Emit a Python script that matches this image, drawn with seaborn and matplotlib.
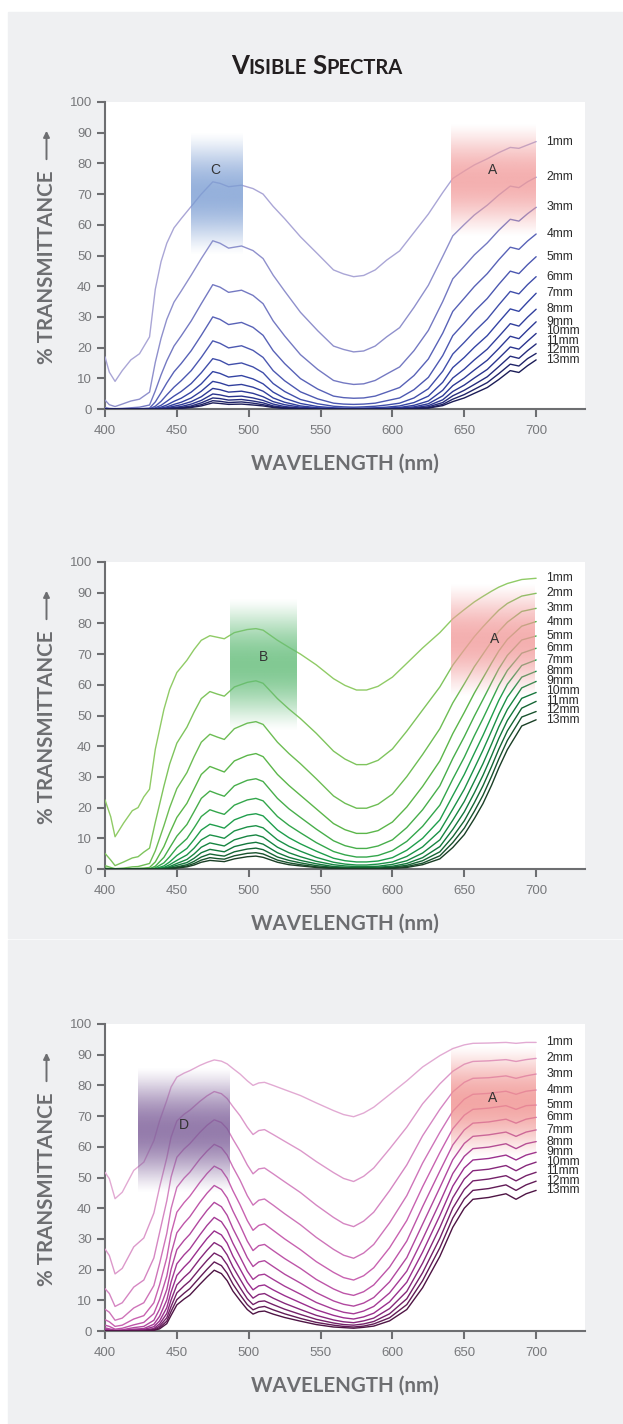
import numpy as np
import pandas as pd
import matplotlib
matplotlib.use("Agg")
import matplotlib.pyplot as plt
import seaborn as sns
from matplotlib.patches import Rectangle
from matplotlib.colors import to_rgb

# % transmittance.
# one entry per wavelength, each holding the 13 path lengths (1mm ... 13mm)
thickness = ["1mm", "2mm", "3mm", "4mm", "5mm", "6mm", "7mm",
             "8mm", "9mm", "10mm", "11mm", "12mm", "13mm"]

blue_wl = [400, 403, 407, 412, 418, 424, 431, 435, 439, 443, 448, 453, 460, 467,
           475, 480, 486, 495, 503, 510, 517, 525, 536, 548, 559, 566, 573, 580,
           588, 596, 605, 615, 625, 635, 642, 650, 657, 666, 674, 682, 688, 694, 700]
blue_T = [
    [17.0, 2.9, 0.5, 0.1, 0, 0, 0, 0, 0, 0, 0, 0, 0],
    [12.0, 1.4, 0.2, 0, 0, 0, 0, 0, 0, 0, 0, 0, 0],
    [9.0, 0.8, 0.1, 0, 0, 0, 0, 0, 0, 0, 0, 0, 0],
    [12.5, 1.6, 0.2, 0, 0, 0, 0, 0, 0, 0, 0, 0, 0],
    [16.0, 2.6, 0.4, 0.1, 0, 0, 0, 0, 0, 0, 0, 0, 0],
    [18.0, 3.2, 0.6, 0.1, 0, 0, 0, 0, 0, 0, 0, 0, 0],
    [23.5, 5.5, 1.3, 0.3, 0.1, 0, 0, 0, 0, 0, 0, 0, 0],
    [39.0, 15.2, 5.9, 2.3, 0.9, 0.4, 0.1, 0.1, 0, 0, 0, 0, 0],
    [48.0, 23.0, 11.1, 5.3, 2.5, 1.2, 0.6, 0.3, 0.1, 0.1, 0, 0, 0],
    [54.0, 29.2, 15.7, 8.5, 4.6, 2.5, 1.3, 0.7, 0.4, 0.2, 0.1, 0.1, 0],
    [59.0, 34.8, 20.5, 12.1, 7.1, 4.2, 2.5, 1.5, 0.9, 0.5, 0.3, 0.2, 0.1],
    [62.0, 38.4, 23.8, 14.8, 9.2, 5.7, 3.5, 2.2, 1.4, 0.8, 0.5, 0.3, 0.2],
    [66.0, 43.6, 28.7, 19.0, 12.5, 8.3, 5.5, 3.6, 2.4, 1.6, 1.0, 0.7, 0.5],
    [70.0, 49.0, 34.3, 24.0, 16.8, 11.8, 8.2, 5.8, 4.0, 2.8, 2.0, 1.4, 1.0],
    [74.0, 54.8, 40.5, 30.0, 22.2, 16.4, 12.2, 9.0, 6.7, 4.9, 3.6, 2.7, 2.0],
    [73.5, 54.0, 39.7, 29.2, 21.4, 15.8, 11.6, 8.5, 6.3, 4.6, 3.4, 2.5, 1.8],
    [72.4, 52.4, 38.0, 27.5, 19.9, 14.4, 10.4, 7.6, 5.5, 4.0, 2.9, 2.1, 1.5],
    [72.9, 53.1, 38.7, 28.2, 20.6, 15.0, 10.9, 8.0, 5.8, 4.2, 3.1, 2.3, 1.6],
    [71.8, 51.6, 37.0, 26.6, 19.1, 13.7, 9.8, 7.1, 5.1, 3.6, 2.6, 1.9, 1.3],
    [70.0, 49.0, 34.3, 24.0, 16.8, 11.8, 8.2, 5.8, 4.0, 2.8, 2.0, 1.4, 1.0],
    [66.0, 43.6, 28.7, 19.0, 12.5, 8.3, 5.5, 3.6, 2.4, 1.6, 1.0, 0.7, 0.5],
    [62.0, 38.4, 23.8, 14.8, 9.2, 5.7, 3.5, 2.2, 1.4, 0.8, 0.5, 0.3, 0.2],
    [56.1, 31.5, 17.7, 9.9, 5.6, 3.1, 1.8, 1.0, 0.6, 0.3, 0.2, 0.1, 0.1],
    [50.5, 25.5, 12.9, 6.5, 3.3, 1.7, 0.8, 0.4, 0.2, 0.1, 0.1, 0, 0],
    [45.3, 20.5, 9.3, 4.2, 1.9, 0.9, 0.4, 0.2, 0.1, 0, 0, 0, 0],
    [44.0, 19.4, 8.5, 3.7, 1.6, 0.7, 0.3, 0.1, 0.1, 0, 0, 0, 0],
    [43.1, 18.6, 8.0, 3.5, 1.5, 0.6, 0.3, 0.1, 0.1, 0, 0, 0, 0],
    [43.5, 18.9, 8.2, 3.6, 1.6, 0.7, 0.3, 0.1, 0.1, 0, 0, 0, 0],
    [45.3, 20.5, 9.3, 4.2, 1.9, 0.9, 0.4, 0.2, 0.1, 0, 0, 0, 0],
    [48.5, 23.5, 11.4, 5.5, 2.7, 1.3, 0.6, 0.3, 0.1, 0.1, 0, 0, 0],
    [51.5, 26.5, 13.7, 7.0, 3.6, 1.9, 1.0, 0.5, 0.3, 0.1, 0.1, 0, 0],
    [57.5, 33.1, 19.0, 10.9, 6.3, 3.6, 2.1, 1.2, 0.7, 0.4, 0.2, 0.1, 0.1],
    [63.5, 40.3, 25.6, 16.3, 10.3, 6.6, 4.2, 2.6, 1.7, 1.1, 0.7, 0.4, 0.3],
    [70.5, 49.7, 35.0, 24.7, 17.4, 12.3, 8.7, 6.1, 4.3, 3.0, 2.1, 1.5, 1.1],
    [75.1, 56.4, 42.4, 31.8, 23.9, 17.9, 13.5, 10.1, 7.6, 5.7, 4.3, 3.2, 2.4],
    [77.5, 60.1, 46.5, 36.1, 28.0, 21.7, 16.8, 13.0, 10.1, 7.8, 6.1, 4.7, 3.6],
    [79.5, 63.2, 50.2, 39.9, 31.8, 25.2, 20.1, 16.0, 12.7, 10.1, 8.0, 6.4, 5.1],
    [81.5, 66.4, 54.1, 44.1, 36.0, 29.3, 23.9, 19.5, 15.9, 12.9, 10.5, 8.6, 7.0],
    [83.5, 69.7, 58.2, 48.6, 40.6, 33.9, 28.3, 23.6, 19.7, 16.5, 13.8, 11.5, 9.6],
    [85.2, 72.6, 61.8, 52.7, 44.9, 38.3, 32.6, 27.8, 23.7, 20.2, 17.2, 14.6, 12.5],
    [84.9, 72.1, 61.2, 52.0, 44.1, 37.5, 31.8, 27.0, 22.9, 19.5, 16.5, 14.0, 11.9],
    [86.0, 74.0, 63.6, 54.7, 47.0, 40.5, 34.8, 29.9, 25.7, 22.1, 19.0, 16.4, 14.1],
    [87.1, 75.5, 65.7, 57.0, 49.6, 43.1, 37.7, 32.5, 28.4, 24.6, 21.2, 18.1, 16.0],
]

green_wl = [400, 404, 407, 413, 419, 423, 427, 431, 435, 441, 445, 450, 457, 462,
            467, 473, 478, 483, 490, 499, 505, 510, 520, 528, 536, 547, 559, 567,
            575, 582, 590, 600, 610, 621, 633, 642, 650, 657, 663, 669, 674, 680,
            690, 700]
green_T = [
    [22.5, 5.1, 1.1, 0.3, 0.1, 0, 0, 0, 0, 0, 0, 0, 0],
    [17.0, 2.9, 0.5, 0.1, 0, 0, 0, 0, 0, 0, 0, 0, 0],
    [10.5, 1.1, 0.1, 0, 0, 0, 0, 0, 0, 0, 0, 0, 0],
    [15.0, 2.3, 0.3, 0.1, 0, 0, 0, 0, 0, 0, 0, 0, 0],
    [19.0, 3.6, 0.7, 0.1, 0, 0, 0, 0, 0, 0, 0, 0, 0],
    [20.0, 4.0, 0.8, 0.2, 0, 0, 0, 0, 0, 0, 0, 0, 0],
    [23.5, 5.5, 1.3, 0.3, 0.1, 0, 0, 0, 0, 0, 0, 0, 0],
    [26.0, 6.8, 1.8, 0.5, 0.1, 0, 0, 0, 0, 0, 0, 0, 0],
    [39.0, 15.2, 5.9, 2.3, 0.9, 0.4, 0.1, 0.1, 0, 0, 0, 0, 0],
    [52.0, 27.0, 14.1, 7.3, 3.8, 2.0, 1.0, 0.5, 0.3, 0.1, 0.1, 0, 0],
    [58.5, 34.2, 20.0, 11.7, 6.9, 4.0, 2.3, 1.4, 0.8, 0.5, 0.3, 0.2, 0.1],
    [64.0, 41.0, 26.2, 16.8, 10.7, 6.9, 4.4, 2.8, 1.8, 1.2, 0.7, 0.5, 0.3],
    [68.0, 46.2, 31.4, 21.4, 14.5, 9.9, 6.7, 4.6, 3.1, 2.1, 1.4, 1.0, 0.7],
    [71.5, 51.1, 36.6, 26.1, 18.7, 13.4, 9.6, 6.8, 4.9, 3.5, 2.5, 1.8, 1.3],
    [74.5, 55.5, 41.3, 30.8, 23.0, 17.1, 12.7, 9.5, 7.1, 5.3, 3.9, 2.9, 2.2],
    [76.0, 57.8, 43.9, 33.4, 25.4, 19.3, 14.6, 11.1, 8.5, 6.4, 4.9, 3.7, 2.8],
    [75.5, 57.0, 43.0, 32.5, 24.5, 18.5, 14.0, 10.6, 8.0, 6.0, 4.5, 3.4, 2.6],
    [75.0, 56.3, 42.2, 31.6, 23.7, 17.8, 13.3, 10.0, 7.5, 5.6, 4.2, 3.2, 2.4],
    [77.0, 59.3, 45.7, 35.2, 27.1, 20.8, 16.0, 12.4, 9.5, 7.3, 5.6, 4.3, 3.3],
    [78.0, 60.8, 47.5, 37.0, 28.9, 22.5, 17.6, 13.7, 10.7, 8.3, 6.5, 5.1, 4.0],
    [78.3, 61.3, 48.0, 37.6, 29.4, 23.0, 18.0, 14.1, 11.1, 8.7, 6.8, 5.3, 4.2],
    [77.8, 60.5, 47.1, 36.6, 28.5, 22.2, 17.3, 13.4, 10.4, 8.1, 6.3, 4.9, 3.8],
    [74.5, 55.5, 41.3, 30.8, 23.0, 17.1, 12.7, 9.5, 7.1, 5.3, 3.9, 2.9, 2.2],
    [72.2, 52.1, 37.6, 27.2, 19.6, 14.2, 10.2, 7.4, 5.3, 3.8, 2.8, 2.0, 1.4],
    [70.0, 49.0, 34.3, 24.0, 16.8, 11.8, 8.2, 5.8, 4.0, 2.8, 2.0, 1.4, 1.0],
    [66.5, 44.2, 29.4, 19.6, 13.0, 8.6, 5.8, 3.8, 2.5, 1.7, 1.1, 0.7, 0.5],
    [62.0, 38.4, 23.8, 14.8, 9.2, 5.7, 3.5, 2.2, 1.4, 0.8, 0.5, 0.3, 0.2],
    [59.8, 35.8, 21.4, 12.8, 7.6, 4.6, 2.7, 1.6, 1.0, 0.6, 0.4, 0.2, 0.1],
    [58.3, 34.0, 19.8, 11.6, 6.7, 3.9, 2.3, 1.3, 0.8, 0.5, 0.3, 0.2, 0.1],
    [58.3, 34.0, 19.8, 11.6, 6.7, 3.9, 2.3, 1.3, 0.8, 0.5, 0.3, 0.2, 0.1],
    [59.5, 35.4, 21.1, 12.5, 7.5, 4.4, 2.6, 1.6, 0.9, 0.6, 0.3, 0.2, 0.1],
    [62.5, 39.1, 24.4, 15.3, 9.5, 6.0, 3.7, 2.3, 1.5, 0.9, 0.6, 0.4, 0.2],
    [67.0, 44.9, 30.1, 20.2, 13.5, 9.0, 6.1, 4.1, 2.7, 1.8, 1.2, 0.8, 0.5],
    [72.0, 51.8, 37.3, 26.9, 19.3, 13.9, 10.0, 7.2, 5.2, 3.7, 2.7, 1.9, 1.4],
    [77.0, 59.3, 45.7, 35.2, 27.1, 20.8, 16.0, 12.4, 9.5, 7.3, 5.6, 4.3, 3.3],
    [81.5, 66.4, 54.1, 44.1, 36.0, 29.3, 23.9, 19.5, 15.9, 12.9, 10.5, 8.6, 7.0],
    [84.5, 71.4, 60.3, 51.0, 43.1, 36.4, 30.8, 26.0, 22.0, 18.6, 15.7, 13.3, 11.2],
    [87.0, 75.7, 65.9, 57.3, 49.8, 43.4, 37.7, 32.8, 28.6, 24.8, 21.6, 18.8, 16.4],
    [88.8, 78.9, 70.0, 62.2, 55.2, 49.0, 43.5, 38.7, 34.3, 30.5, 27.1, 24.0, 21.3],
    [90.5, 81.9, 74.1, 67.1, 60.7, 54.9, 49.7, 45.0, 40.7, 36.9, 33.4, 30.2, 27.3],
    [91.8, 84.3, 77.4, 71.0, 65.2, 59.8, 54.9, 50.4, 46.3, 42.5, 39.0, 35.8, 32.9],
    [93.0, 86.5, 80.4, 74.8, 69.6, 64.7, 60.2, 56.0, 52.0, 48.4, 45.0, 41.9, 38.9],
    [94.3, 88.9, 83.9, 79.1, 74.6, 70.3, 66.3, 62.5, 59.0, 55.6, 52.4, 49.5, 46.6],
    [94.7, 89.8, 84.9, 80.6, 75.9, 71.9, 68.1, 64.4, 61.1, 57.5, 54.6, 51.3, 48.6],
]

purple_wl = [400, 403, 407, 412, 420, 427, 434, 438, 443, 446, 450, 455, 459, 466,
             471, 476, 481, 485, 489, 494, 499, 503, 507, 511, 517, 525, 536, 547,
             559, 566, 573, 580, 587, 598, 610, 621, 633, 642, 650, 656, 667, 679,
             686, 693, 700]
purple_T = [
    [51.7, 26.7, 13.8, 7.1, 3.7, 1.9, 1.0, 0.5, 0.3, 0.1, 0.1, 0, 0],
    [49.6, 24.6, 12.2, 6.1, 3.0, 1.5, 0.7, 0.4, 0.2, 0.1, 0, 0, 0],
    [43.1, 18.6, 8.0, 3.5, 1.5, 0.6, 0.3, 0.1, 0.1, 0, 0, 0, 0],
    [45.2, 20.4, 9.2, 4.2, 1.9, 0.9, 0.4, 0.2, 0.1, 0, 0, 0, 0],
    [52.3, 27.4, 14.3, 7.5, 3.9, 2.0, 1.1, 0.6, 0.3, 0.2, 0.1, 0, 0],
    [55.0, 30.3, 16.6, 9.2, 5.0, 2.8, 1.5, 0.8, 0.5, 0.3, 0.1, 0.1, 0],
    [62.0, 38.4, 23.8, 14.8, 9.2, 5.7, 3.5, 2.2, 1.4, 0.8, 0.5, 0.3, 0.2],
    [68.5, 46.9, 32.1, 22.0, 15.1, 10.3, 7.1, 4.8, 3.3, 2.3, 1.6, 1.1, 0.7],
    [75.1, 56.4, 42.4, 31.8, 23.9, 17.9, 13.5, 10.1, 7.6, 5.7, 4.3, 3.2, 2.4],
    [79.5, 63.2, 50.2, 39.9, 31.8, 25.2, 20.1, 16.0, 12.7, 10.1, 8.0, 6.4, 5.1],
    [82.7, 68.4, 56.6, 46.8, 38.7, 32.0, 26.5, 21.9, 18.1, 15.0, 12.4, 10.2, 8.5],
    [84.0, 70.6, 59.3, 49.8, 41.8, 35.1, 29.5, 24.8, 20.8, 17.5, 14.7, 12.3, 10.4],
    [84.8, 71.9, 61.0, 51.7, 43.9, 37.2, 31.5, 26.7, 22.7, 19.2, 16.3, 13.8, 11.7],
    [86.5, 74.8, 64.7, 56.0, 48.4, 41.9, 36.2, 31.3, 27.1, 23.5, 20.3, 17.5, 15.2],
    [87.5, 76.6, 67.0, 58.6, 51.3, 44.9, 39.3, 34.4, 30.1, 26.3, 23.0, 20.1, 17.6],
    [88.3, 78.0, 68.8, 60.8, 53.7, 47.4, 41.9, 37.0, 32.6, 28.8, 25.4, 22.5, 19.8],
    [87.9, 77.3, 67.9, 59.7, 52.5, 46.1, 40.5, 35.6, 31.3, 27.5, 24.2, 21.3, 18.7],
    [87.0, 75.7, 65.9, 57.3, 49.8, 43.4, 37.7, 32.8, 28.6, 24.8, 21.6, 18.8, 16.4],
    [85.5, 73.1, 62.5, 53.4, 45.7, 39.1, 33.4, 28.6, 24.4, 20.9, 17.9, 15.3, 13.0],
    [83.7, 70.1, 58.6, 49.1, 41.1, 34.4, 28.8, 24.1, 20.2, 16.9, 14.1, 11.8, 9.9],
    [81.5, 66.4, 54.1, 44.1, 36.0, 29.3, 23.9, 19.5, 15.9, 12.9, 10.5, 8.6, 7.0],
    [80.0, 64.0, 51.2, 41.0, 32.8, 26.2, 21.0, 16.8, 13.4, 10.7, 8.6, 6.9, 5.5],
    [80.8, 65.3, 52.8, 42.6, 34.4, 27.8, 22.5, 18.2, 14.7, 11.9, 9.6, 7.7, 6.3],
    [81.0, 65.6, 53.1, 43.0, 34.9, 28.2, 22.9, 18.5, 15.0, 12.2, 9.8, 8.0, 6.5],
    [80.0, 64.0, 51.2, 41.0, 32.8, 26.2, 21.0, 16.8, 13.4, 10.7, 8.6, 6.9, 5.5],
    [78.6, 61.8, 48.6, 38.2, 30.0, 23.6, 18.5, 14.6, 11.5, 9.0, 7.1, 5.6, 4.4],
    [76.7, 58.8, 45.1, 34.6, 26.5, 20.4, 15.6, 12.0, 9.2, 7.0, 5.4, 4.1, 3.2],
    [74.3, 55.2, 41.0, 30.5, 22.6, 16.8, 12.5, 9.3, 6.9, 5.1, 3.8, 2.8, 2.1],
    [71.8, 51.6, 37.0, 26.6, 19.1, 13.7, 9.8, 7.1, 5.1, 3.6, 2.6, 1.9, 1.3],
    [70.5, 49.7, 35.0, 24.7, 17.4, 12.3, 8.7, 6.1, 4.3, 3.0, 2.1, 1.5, 1.1],
    [69.8, 48.7, 34.0, 23.7, 16.6, 11.6, 8.1, 5.6, 3.9, 2.7, 1.9, 1.3, 0.9],
    [71.0, 50.4, 35.8, 25.4, 18.0, 12.8, 9.1, 6.5, 4.6, 3.3, 2.3, 1.6, 1.2],
    [72.9, 53.1, 38.7, 28.2, 20.6, 15.0, 10.9, 8.0, 5.8, 4.2, 3.1, 2.3, 1.6],
    [77.0, 59.3, 45.7, 35.2, 27.1, 20.8, 16.0, 12.4, 9.5, 7.3, 5.6, 4.3, 3.3],
    [81.5, 66.4, 54.1, 44.1, 36.0, 29.3, 23.9, 19.5, 15.9, 12.9, 10.5, 8.6, 7.0],
    [86.0, 74.0, 63.6, 54.7, 47.0, 40.5, 34.8, 29.9, 25.7, 22.1, 19.0, 16.4, 14.1],
    [89.7, 80.5, 72.2, 64.7, 58.1, 52.1, 46.7, 41.9, 37.6, 33.7, 30.2, 27.1, 24.3],
    [92.0, 84.6, 77.9, 71.6, 65.9, 60.6, 55.8, 51.3, 47.2, 43.4, 40.0, 36.8, 33.8],
    [93.2, 86.9, 81.0, 75.5, 70.3, 65.5, 61.1, 56.9, 53.1, 49.5, 46.1, 43.0, 40.0],
    [93.7, 87.8, 82.3, 77.1, 72.2, 67.7, 63.4, 59.4, 55.7, 52.2, 48.9, 45.8, 42.9],
    [93.8, 88.0, 82.5, 77.4, 72.6, 68.1, 63.9, 59.9, 56.2, 52.7, 49.5, 46.4, 43.5],
    [94.0, 88.4, 83.1, 78.1, 73.4, 69.0, 64.8, 61.0, 57.3, 53.9, 50.6, 47.6, 44.7],
    [93.7, 87.8, 82.3, 77.1, 72.2, 67.7, 63.4, 59.4, 55.7, 52.2, 48.9, 45.8, 42.9],
    [94.0, 88.4, 83.1, 78.1, 73.4, 69.0, 64.8, 61.0, 57.3, 53.9, 50.6, 47.6, 44.7],
    [94.0, 88.8, 83.7, 78.5, 73.6, 69.6, 65.5, 61.7, 58.2, 55.0, 51.7, 48.8, 45.8],
]

# highlighted absorption windows: (wl from, wl to, %T from, %T to, colour, letter, letter wl, letter %T)
blue_bands = [(460, 496, 50, 90, "#7b9dd3", "C", 477, 78),
              (641, 700, 56, 93, "#f29c9c", "A", 670, 78)]
green_bands = [(487, 533, 45, 88, "#62bc78", "B", 510, 69),
               (641, 699, 56, 93, "#f29c9c", "A", 671, 75)]
purple_bands = [(423, 487, 45, 86, "#7a5b97", "D", 455, 67),
                (641, 700, 56, 93, "#f0918f", "A", 670, 76)]

sns.set_theme(style="white")
plt.rcParams["font.family"] = ["Liberation Sans", "DejaVu Sans"]

W, H = 623, 1424
fig = plt.figure(figsize=(W / 100, H / 100), dpi=100)
fig.patch.set_facecolor("white")

BG = "#eff0f2"
AXC = "#6d6e71"
TICKC = "#77787b"
LABEL_FONT = ["Lato", "DejaVu Sans"]
fig.add_artist(Rectangle((8 / W, (H - 937.5) / H), 1 - 8 / W, 925.5 / H,
                         transform=fig.transFigure, color=BG, zorder=0))
fig.add_artist(Rectangle((8 / W, 0), 1 - 8 / W, (H - 939.5) / H,
                         transform=fig.transFigure, color=BG, zorder=0))


def gradient_band(ax, x0, x1, y0, y1, color, peak=0.8):
    t = np.linspace(0, 1, 256)
    rgba = np.zeros((256, 1, 4))
    rgba[..., :3] = to_rgb(color)
    rgba[:, 0, 3] = peak * np.sin(np.pi * t) ** 1.3
    ax.imshow(rgba, extent=(x0, x1, y0, y1), origin="lower", aspect="auto",
              interpolation="bilinear", zorder=4)


def spread(vals, gap):
    # push the end labels apart just enough so they do not collide
    out = list(vals)
    for i in range(len(out) - 2, -1, -1):
        if out[i] - out[i + 1] < gap:
            out[i] = out[i + 1] + gap
    return out


def draw_panel(top_px, wl, cols, colors, bands):
    assert len(wl) == len(cols)
    bottom_px = top_px + 307
    ax = fig.add_axes([105 / W, (H - bottom_px) / H, 480 / W, 307 / H])
    ax.set_facecolor("white")

    df = pd.DataFrame([
        {"wavelength": w, "T": v, "thickness": name}
        for w, col in zip(wl, cols)
        for name, v in zip(thickness, col)
    ])
    pal = sns.blend_palette(colors, len(thickness))
    sns.lineplot(data=df, x="wavelength", y="T", hue="thickness",
                 hue_order=thickness, palette=pal, estimator=None,
                 legend=False, linewidth=1.0, ax=ax, zorder=3)

    for x0, x1, y0, y1, col, letter, lx, ly in bands:
        gradient_band(ax, x0, x1, y0, y1, col)
        ax.text(lx, ly, letter, ha="center", va="center", fontsize=10,
                color="#333333", zorder=6)

    ends = list(cols[-1])
    for name, y in zip(thickness, spread(ends, 3.1)):
        ax.text(707, y, name, ha="left", va="center", fontsize=8.7,
                color="#2b2b2b", zorder=6)

    ax.set_xlim(400, 734)
    ax.set_ylim(0, 100)
    ax.set_xticks(range(400, 701, 50))
    ax.set_yticks(range(0, 101, 10))
    for s in ("top", "right"):
        ax.spines[s].set_visible(False)
    for s in ("left", "bottom"):
        ax.spines[s].set_color(AXC)
        ax.spines[s].set_linewidth(1.5)
    ax.tick_params(axis="both", direction="out", length=5.5, width=1.5,
                   color=AXC, labelcolor=TICKC, labelsize=9.5, pad=4,
                   left=True, bottom=True)
    ax.tick_params(axis="x", pad=6)

    ax.set_xlabel("WAVELENGTH (nm)", fontsize=14.8, fontweight="bold",
                  color=AXC, family=LABEL_FONT)
    ax.xaxis.set_label_coords(0.5, -0.179)
    ax.xaxis.label.set_va("center")
    ax.set_ylabel("% TRANSMITTANCE", fontsize=14.8, fontweight="bold",
                  color=AXC, family=LABEL_FONT)
    ax.yaxis.set_label_coords(-0.1215, 0.462)
    ax.yaxis.label.set_va("center")
    # upward arrow that sits above the y label
    fig.add_artist(matplotlib.patches.FancyArrowPatch(
        (46.5 / W, (H - (top_px + 60)) / H), (46.5 / W, (H - (top_px + 26)) / H),
        transform=fig.transFigure, arrowstyle="-|>", mutation_scale=9,
        color=AXC, lw=1.4))
    return ax


draw_panel(102, blue_wl, blue_T, ["#aaa6d6", "#5862b7", "#3444a4", "#2a348f", "#1b1c57"], blue_bands)
draw_panel(562, green_wl, green_T, ["#90cb66", "#5bb64a", "#1f9e4c", "#13783c", "#1a3f26"], green_bands)
draw_panel(1024, purple_wl, purple_T, ["#e2aad3", "#c862b0", "#9a2f8e", "#4e1444"], purple_bands)

# small-caps title, pieced together
renderer = fig.canvas.get_renderer()
parts = [("V", 18.5), ("ISIBLE", 14.5), (" ", 14.5), ("S", 18.5), ("PECTRA", 14.5)]
pieces = []
for s, size in parts:
    t = fig.text(0, (H - 73.5) / H, s, fontsize=size, fontweight="bold",
                 color="#231f20", va="baseline", ha="left", family=LABEL_FONT)
    pieces.append(t)
widths = []
for (s, size), t in zip(parts, pieces):
    widths.append(5.5 if s == " " else t.get_window_extent(renderer).width)
x = 317 - sum(widths) / 2
for t, w in zip(pieces, widths):
    t.set_x(x / W)
    x += w

fig.savefig("out.png", dpi=100, facecolor=fig.get_facecolor())
